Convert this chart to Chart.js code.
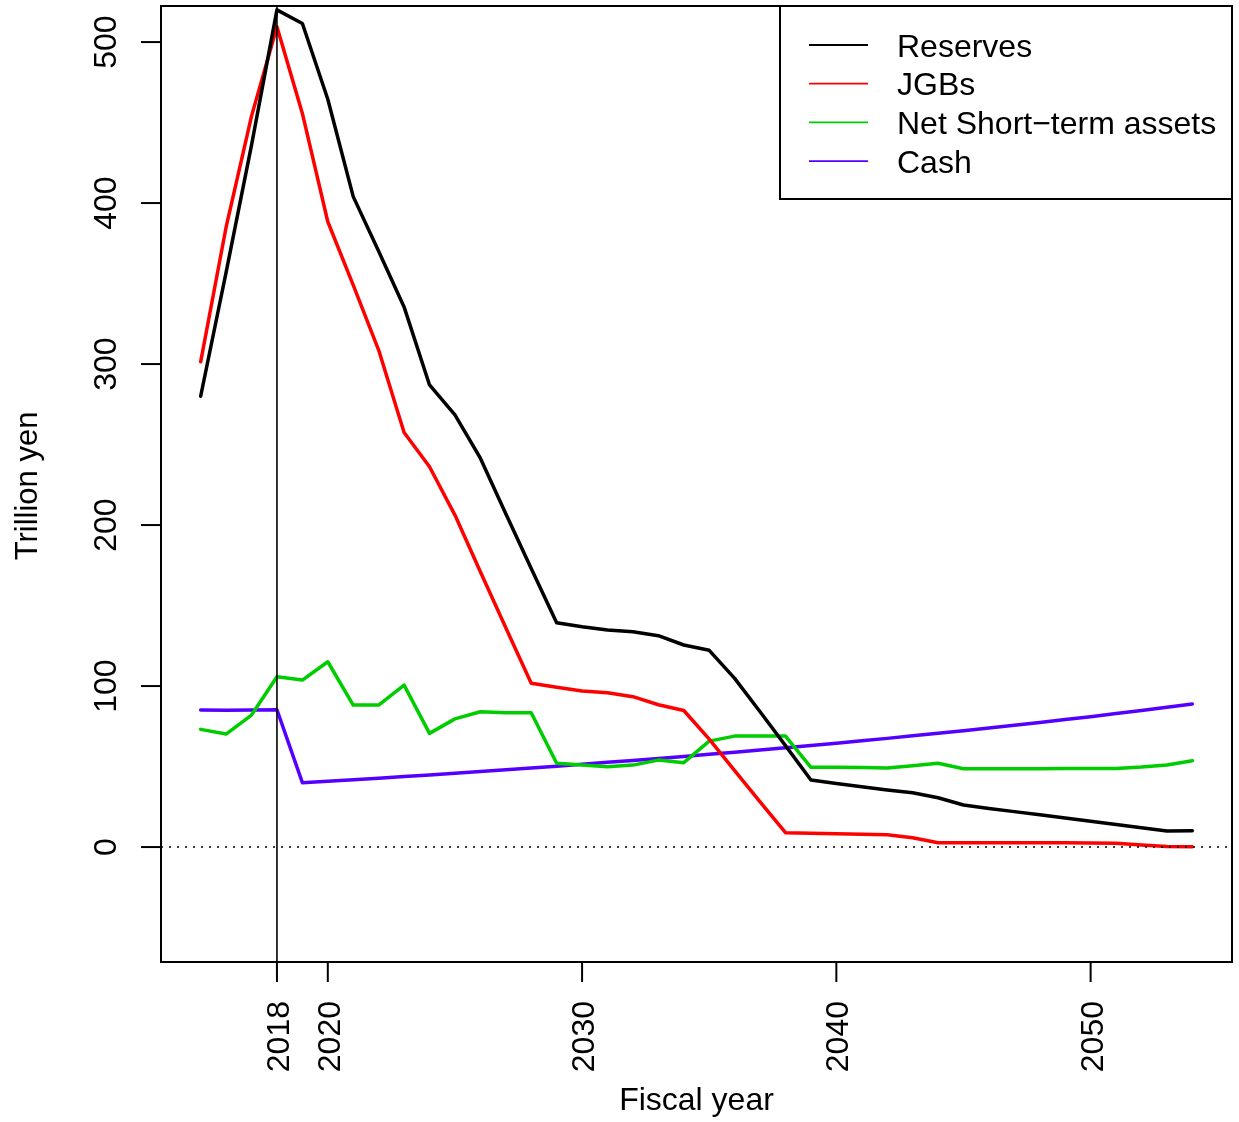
<!DOCTYPE html>
<html>
<head>
<meta charset="utf-8">
<title>Reserves, JGBs, net short-term assets and cash by fiscal year</title>
<script src="https://cdn.jsdelivr.net/npm/chart.js@4/dist/chart.umd.min.js"></script>
<style>
  html, body { margin: 0; padding: 0; background: #ffffff; }
  canvas { display: block; }
</style>
</head>
<body>
<canvas id="chart" width="1239" height="1122"></canvas>
<script>
// Fiscal years on the horizontal axis
const years = [2015, 2016, 2017, 2018, 2019, 2020, 2021, 2022, 2023, 2024,
               2025, 2026, 2027, 2028, 2029, 2030, 2031, 2032, 2033, 2034,
               2035, 2036, 2037, 2038, 2039, 2040, 2041, 2042, 2043, 2044,
               2045, 2046, 2047, 2048, 2049, 2050, 2051, 2052, 2053, 2054];

// Balances in trillion yen
const reserves = [280, 357, 436, 520, 511.5, 464.5, 404, 370, 335.5, 287,
                  268.5, 241.5, 207, 173, 139.3, 136.8, 134.8, 133.7, 131.3, 125.5,
                  122.2, 104.8, 84, 63, 41.6, 39.5, 37.5, 35.5, 33.7, 30.6,
                  26.1, 24, 22, 20, 18, 16, 14, 12, 10, 10.1];
const jgbs = [301.4, 385, 454, 509.5, 455.7, 388.4, 349, 308.7, 257.5, 236.2,
              206.2, 171, 136.2, 101.7, 99.2, 96.9, 95.8, 93.4, 88.4, 84.8,
              67, 47.5, 28, 8.9, 8.5, 8.2, 8, 7.6, 5.8, 2.7,
              2.6, 2.6, 2.6, 2.6, 2.6, 2.5, 2.3, 1.3, 0.4, 0.2];
const netShortTerm = [73.1, 70.2, 82, 105.8, 103.7, 115.1, 88.2, 88.2, 100.6, 70.6,
                      79.6, 84, 83.4, 83.4, 52, 50.9, 49.9, 50.9, 54, 52.4,
                      65.8, 68.9, 68.9, 68.9, 49.5, 49.5, 49.4, 49.1, 50.5, 52,
                      48.6, 48.6, 48.7, 48.7, 48.8, 48.8, 48.8, 49.7, 51, 53.6];
const cash = [85.1, 84.9, 85.1, 85.3, 40.0, 40.9, 41.8, 42.8, 43.8, 44.8,
              45.8, 46.9, 48.0, 49.1, 50.2, 51.4, 52.6, 53.8, 55.0, 56.3,
              57.6, 58.9, 60.3, 61.7, 63.1, 64.5, 66.0, 67.5, 69.1, 70.7,
              72.3, 74.0, 75.7, 77.4, 79.2, 81.0, 82.9, 84.8, 86.8, 88.8];

// Series names and axis text
const seriesNames = ['Reserves', 'JGBs', 'Net Short\u2212term assets', 'Cash'];
const xTicks = [2018, 2020, 2030, 2040, 2050];
const yTicks = [0, 100, 200, 300, 400, 500];
const xTitle = 'Fiscal year';
const yTitle = 'Trillion yen';
const markerYear = 2018;
const baselineValue = 0;

const colors = ['#000000', '#ff0000', '#00cd00', '#5500ff'];
const seriesValues = [reserves, jgbs, netShortTerm, cash];

const datasets = seriesValues.map((vals, i) => ({
  label: seriesNames[i],
  data: years.map((yr, k) => ({ x: yr, y: vals[k] })),
  borderColor: colors[i],
  backgroundColor: colors[i],
  borderWidth: 3.5,
  pointRadius: 0,
  pointHoverRadius: 0,
  tension: 0,
  fill: false,
  borderJoinStyle: 'round',
  borderCapStyle: 'round'
}));

const FONT = '"Liberation Sans", Arial, Helvetica, sans-serif';

// Frame, axes, reference lines and legend in the base-graphics style
const framePlugin = {
  id: 'frame',
  beforeDraw(chart) {
    const ctx = chart.ctx;
    ctx.save();
    ctx.fillStyle = '#ffffff';
    ctx.fillRect(0, 0, chart.width, chart.height);
    ctx.restore();
  },
  afterDatasetsDraw(chart) {
    const ctx = chart.ctx;
    const a = chart.chartArea;
    const xs = chart.scales.x;
    const ys = chart.scales.y;
    ctx.save();
    ctx.strokeStyle = '#000000';
    ctx.fillStyle = '#000000';

    // dotted zero line
    const y0 = ys.getPixelForValue(baselineValue);
    ctx.lineWidth = 1.5;
    ctx.setLineDash([2, 6]);
    ctx.beginPath();
    ctx.moveTo(a.left, y0);
    ctx.lineTo(a.right, y0);
    ctx.stroke();
    ctx.setLineDash([]);

    // vertical marker year
    const xm = xs.getPixelForValue(markerYear);
    ctx.lineWidth = 1.6;
    ctx.beginPath();
    ctx.moveTo(xm, a.top);
    ctx.lineTo(xm, a.bottom);
    ctx.stroke();

    // plot box
    ctx.lineWidth = 2;
    ctx.strokeRect(a.left, a.top, a.right - a.left, a.bottom - a.top);

    // y axis ticks and labels
    ctx.font = '32px ' + FONT;
    yTicks.forEach(v => {
      const py = ys.getPixelForValue(v);
      ctx.beginPath();
      ctx.moveTo(a.left - 20, py);
      ctx.lineTo(a.left, py);
      ctx.stroke();
      ctx.save();
      ctx.translate(a.left - 45, py);
      ctx.rotate(-Math.PI / 2);
      ctx.textAlign = 'center';
      ctx.textBaseline = 'alphabetic';
      ctx.fillText(String(v), 0, 0);
      ctx.restore();
    });

    // x axis ticks and labels
    xTicks.forEach(v => {
      const px = xs.getPixelForValue(v);
      ctx.beginPath();
      ctx.moveTo(px, a.bottom);
      ctx.lineTo(px, a.bottom + 20);
      ctx.stroke();
      ctx.save();
      ctx.translate(px + 12, a.bottom + 39);
      ctx.rotate(-Math.PI / 2);
      ctx.textAlign = 'right';
      ctx.textBaseline = 'alphabetic';
      ctx.fillText(String(v), 0, 0);
      ctx.restore();
    });

    // axis titles
    ctx.textAlign = 'center';
    ctx.textBaseline = 'alphabetic';
    ctx.fillText(xTitle, (a.left + a.right) / 2, 1110);
    ctx.save();
    ctx.font = '31px ' + FONT;
    ctx.translate(37, (a.top + a.bottom) / 2 + 2);
    ctx.rotate(-Math.PI / 2);
    ctx.fillText(yTitle, 0, 0);
    ctx.restore();

    // legend box
    const lx = 780, ly = a.top, lw = a.right - 780, lh = 193;
    ctx.fillStyle = '#ffffff';
    ctx.fillRect(lx, ly, lw, lh);
    ctx.lineWidth = 2;
    ctx.strokeStyle = '#000000';
    ctx.strokeRect(lx, ly, lw, lh);
    ctx.font = '32px ' + FONT;
    ctx.textAlign = 'left';
    chart.data.datasets.forEach((ds, i) => {
      const rowY = 45 + i * 38.7;
      ctx.strokeStyle = ds.borderColor;
      ctx.lineWidth = 1.8;
      ctx.beginPath();
      ctx.moveTo(809, rowY);
      ctx.lineTo(868, rowY);
      ctx.stroke();
      ctx.fillStyle = '#000000';
      ctx.fillText(ds.label, 897, rowY + 11.5);
    });

    ctx.restore();
  }
};

new Chart(document.getElementById('chart'), {
  type: 'line',
  data: { datasets },
  options: {
    responsive: false,
    animation: false,
    devicePixelRatio: 1,
    layout: { padding: { left: 161, right: 7, top: 6, bottom: 160 } },
    scales: {
      x: { type: 'linear', min: 2013.44, max: 2055.56, display: false },
      y: { type: 'linear', min: -71.4, max: 522.4, display: false }
    },
    plugins: {
      legend: { display: false },
      tooltip: { enabled: false },
      title: { display: false }
    },
    events: []
  },
  plugins: [framePlugin]
});
</script>
</body>
</html>
